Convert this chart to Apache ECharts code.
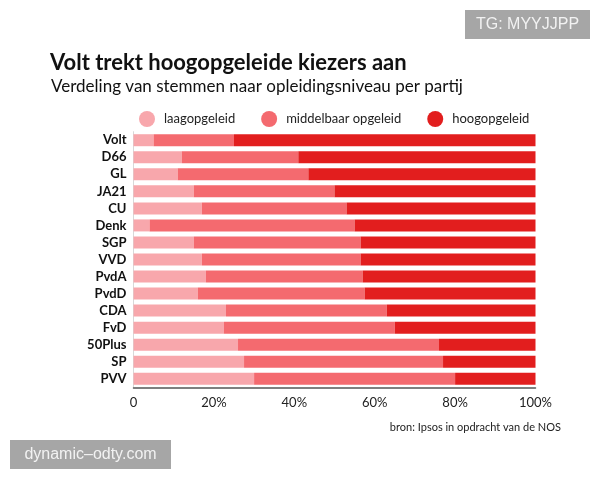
<!DOCTYPE html>
<html>
<head>
<meta charset="utf-8">
<script src="https://cdn.jsdelivr.net/npm/echarts@6/dist/echarts.min.js"></script>
<style>
html,body{margin:0;padding:0;background:#fff;}
#chart{width:600px;height:480px;}
</style>
</head>
<body>
<div id="chart"></div>
<script>
const parties = ['Volt','D66','GL','JA21','CU','Denk','SGP','VVD','PvdA','PvdD','CDA','FvD','50Plus','SP','PVV'];
const laagopgeleid = [5, 12, 11, 15, 17, 4, 15, 17, 18, 16, 23, 22.5, 26, 27.5, 30];
const middelbaarOpgeleid = [20, 29, 32.5, 35, 36, 51, 41.5, 39.5, 39, 41.5, 40, 42.5, 50, 49.5, 50];
const hoogopgeleid = [75, 59, 56.5, 50, 47, 45, 43.5, 43.5, 43, 42.5, 37, 35, 24, 23, 20];
const xTicks = [0, 20, 40, 60, 80, 100];
const seriesNames = ['laagopgeleid', 'middelbaar opgeleid', 'hoogopgeleid'];
const colors = ['#f8a7ac', '#f46a6f', '#e21e1e'];

const FONT = 'Lato, "Noto Sans", sans-serif';
const chart = echarts.init(document.getElementById('chart'), null, {renderer: 'canvas'});

const values = [laagopgeleid, middelbaarOpgeleid, hoogopgeleid];

chart.setOption({
  backgroundColor: '#ffffff',
  animation: false,
  color: colors,
  title: [
    {text: 'Volt trekt hoogopgeleide kiezers aan', left: 45, top: 47,
     textStyle: {fontFamily: FONT, fontSize: 22, fontWeight: 'bold', color: '#111'}},
    {text: 'Verdeling van stemmen naar opleidingsniveau per partij', left: 46, top: 73,
     textStyle: {fontFamily: FONT, fontSize: 17, fontWeight: 'normal', color: '#111'}}
  ],
  legend: {
    data: seriesNames,
    left: 134, top: 106,
    icon: 'circle',
    itemWidth: 16, itemHeight: 16,
    itemGap: 26,
    textStyle: {fontFamily: FONT, fontSize: 13, color: '#222', padding: [0, 0, 0, 4]}
  },
  grid: {left: 133.5, right: 64.5, top: 131.7, bottom: 92.7, containLabel: false},
  xAxis: {
    type: 'value', min: 0, max: 100, interval: 20,
    axisLine: {show: true, lineStyle: {color: '#555', width: 1.5}},
    axisTick: {show: false},
    splitLine: {show: false},
    axisLabel: {
      margin: 9, fontFamily: FONT, fontSize: 13, color: '#222',
      formatter: v => xTicks.indexOf(v) >= 0 ? (v === 0 ? '0' : v + '%') : ''
    }
  },
  yAxis: {
    type: 'category', data: parties, inverse: true,
    axisLine: {show: true, lineStyle: {color: '#d8d8d8', width: 1}},
    axisTick: {show: false},
    axisLabel: {margin: 7, fontFamily: FONT, fontSize: 13, fontWeight: 'bold', color: '#111'}
  },
  series: seriesNames.map((name, i) => ({
    name: name, type: 'bar', stack: 'totaal', barWidth: 12,
    data: values[i],
    itemStyle: {color: colors[i]}
  })),
  graphic: [
    {type: 'text', right: 39, top: 422,
     style: {text: 'bron: Ipsos in opdracht van de NOS', font: '11px ' + FONT, fill: '#222'}},
    {type: 'group', left: 10, top: 440, children: [
      {type: 'rect', shape: {x: 0, y: 0, width: 161, height: 29}, style: {fill: '#a6a6a6'}},
      {type: 'text', x: 80.5, y: 14.5, style: {text: 'dynamic–odty.com', font: '16px "Liberation Sans", Arial, sans-serif', fill: '#f2f2f2', align: 'center', verticalAlign: 'middle'}}
    ]},
    {type: 'group', left: 465, top: 10, children: [
      {type: 'rect', shape: {x: 0, y: 0, width: 125, height: 29}, style: {fill: '#a6a6a6'}},
      {type: 'text', x: 62.5, y: 14.5, style: {text: 'TG: MYYJJPP', font: '16px "Liberation Sans", Arial, sans-serif', fill: '#f2f2f2', align: 'center', verticalAlign: 'middle'}}
    ]}
  ]
});
</script>
</body>
</html>
